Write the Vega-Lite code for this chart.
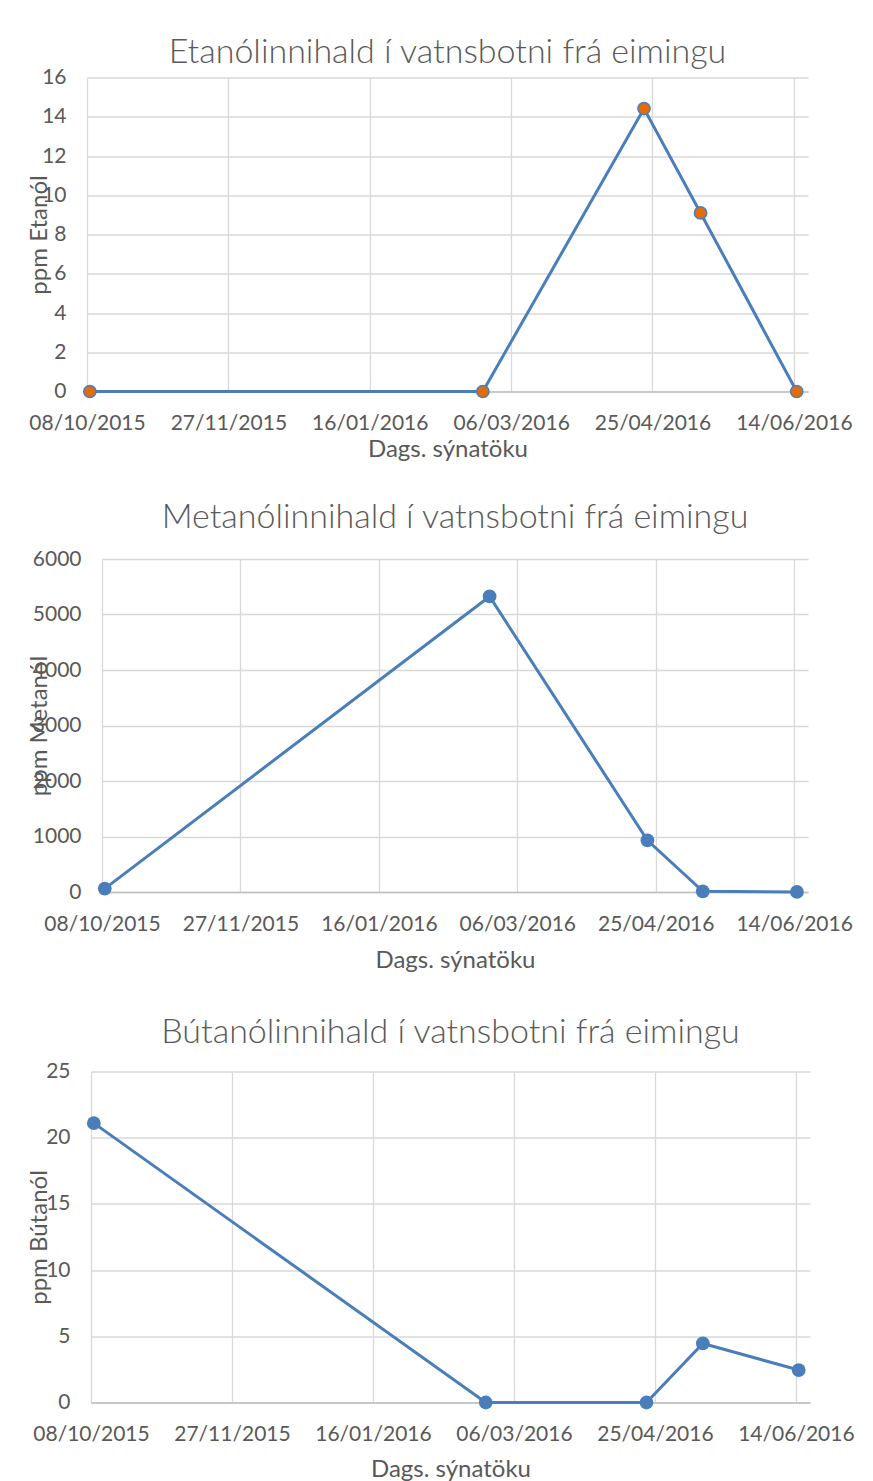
{
  "$schema": "https://vega.github.io/schema/vega-lite/v6.json",
  "padding": {"left": 0, "top": 35.5, "right": 0, "bottom": 0},
  "spacing": 39.5,
  "datasets": {
    "etanol": [
      {"date": "2015-10-09", "ppm": 0},
      {"date": "2016-02-25", "ppm": 0},
      {"date": "2016-04-22", "ppm": 14.42},
      {"date": "2016-05-12", "ppm": 9.1},
      {"date": "2016-06-15", "ppm": 0}
    ],
    "metanol": [
      {"date": "2015-10-09", "ppm": 61},
      {"date": "2016-02-25", "ppm": 5325},
      {"date": "2016-04-22", "ppm": 930},
      {"date": "2016-05-12", "ppm": 12},
      {"date": "2016-06-15", "ppm": 2}
    ],
    "butanol": [
      {"date": "2015-10-09", "ppm": 21.1},
      {"date": "2016-02-25", "ppm": 0},
      {"date": "2016-04-22", "ppm": 0},
      {"date": "2016-05-12", "ppm": 4.46},
      {"date": "2016-06-15", "ppm": 2.45}
    ],
    "empty": []
  },
  "vconcat": [
    {
      "spacing": 0,
      "hconcat": [
        {"width": 27, "height": 1, "data": {"name": "empty"}, "mark": "point"},
        {
          "width": 721,
          "height": 314,
          "title": {"text": "Etanólinnihald í vatnsbotni frá eimingu", "offset": -3.5},
          "data": {"name": "etanol"},
          "mark": {"type": "line", "color": "#4A7EBB", "strokeWidth": 3,
            "point": {"filled": true, "fill": "#E36C0A", "stroke": "#4A7EBB", "strokeWidth": 1.5, "size": 150, "opacity": 1}},
          "encoding": {
            "x": {"field": "date", "type": "temporal",
              "scale": {"type": "utc", "domain": [{"year": 2015, "month": 10, "date": 8, "utc": true}, {"year": 2016, "month": 6, "date": 19, "utc": true}]},
              "axis": {"title": "Dags. sýnatöku", "format": "%d/%m/%Y", "labelPadding": 20.7, "titlePadding": 4,
                "values": [
                  {"year": 2015, "month": 10, "date": 8, "utc": true},
                  {"year": 2015, "month": 11, "date": 27, "utc": true},
                  {"year": 2016, "month": 1, "date": 16, "utc": true},
                  {"year": 2016, "month": 3, "date": 6, "utc": true},
                  {"year": 2016, "month": 4, "date": 25, "utc": true},
                  {"year": 2016, "month": 6, "date": 14, "utc": true}
                ]}},
            "y": {"field": "ppm", "type": "quantitative",
              "scale": {"domain": [0, 16], "nice": false},
              "axis": {"title": "ppm Etanól", "format": "d", "values": [0, 2, 4, 6, 8, 10, 12, 14, 16], "titleX": -35.5}}
          }
        }
      ]
    },
    {
      "spacing": 0,
      "hconcat": [
        {"width": 27, "height": 416.6, "data": {"name": "empty"}, "mark": "point"},
        {
          "width": 706,
          "height": 333,
          "title": {"text": "Metanólinnihald í vatnsbotni frá eimingu", "offset": 12.8},
          "data": {"name": "metanol"},
          "mark": {"type": "line", "color": "#4A7EBB", "strokeWidth": 3,
            "point": {"filled": true, "color": "#4A7EBB", "size": 190, "opacity": 1}},
          "encoding": {
            "x": {"field": "date", "type": "temporal",
              "scale": {"type": "utc", "domain": [{"year": 2015, "month": 10, "date": 8, "utc": true}, {"year": 2016, "month": 6, "date": 19, "utc": true}]},
              "axis": {"title": "Dags. sýnatöku", "format": "%d/%m/%Y", "labelPadding": 21.2, "titlePadding": 14.2,
                "values": [
                  {"year": 2015, "month": 10, "date": 8, "utc": true},
                  {"year": 2015, "month": 11, "date": 27, "utc": true},
                  {"year": 2016, "month": 1, "date": 16, "utc": true},
                  {"year": 2016, "month": 3, "date": 6, "utc": true},
                  {"year": 2016, "month": 4, "date": 25, "utc": true},
                  {"year": 2016, "month": 6, "date": 14, "utc": true}
                ]}},
            "y": {"field": "ppm", "type": "quantitative",
              "scale": {"domain": [0, 6000], "nice": false},
              "axis": {"title": "ppm Metanól", "format": "d", "values": [0, 1000, 2000, 3000, 4000, 5000, 6000], "titleX": -51}}
          }
        }
      ]
    },
    {
      "spacing": 0,
      "hconcat": [
        {"width": 27, "height": 1, "data": {"name": "empty"}, "mark": "point"},
        {
          "width": 719,
          "height": 331,
          "title": {"text": "Bútanólinnihald í vatnsbotni frá eimingu", "offset": 10.9},
          "data": {"name": "butanol"},
          "mark": {"type": "line", "color": "#4A7EBB", "strokeWidth": 3,
            "point": {"filled": true, "color": "#4A7EBB", "size": 190, "opacity": 1}},
          "encoding": {
            "x": {"field": "date", "type": "temporal",
              "scale": {"type": "utc", "domain": [{"year": 2015, "month": 10, "date": 8, "utc": true}, {"year": 2016, "month": 6, "date": 19, "utc": true}]},
              "axis": {"title": "Dags. sýnatöku", "format": "%d/%m/%Y", "labelPadding": 21.4, "titlePadding": 12.5,
                "values": [
                  {"year": 2015, "month": 10, "date": 8, "utc": true},
                  {"year": 2015, "month": 11, "date": 27, "utc": true},
                  {"year": 2016, "month": 1, "date": 16, "utc": true},
                  {"year": 2016, "month": 3, "date": 6, "utc": true},
                  {"year": 2016, "month": 4, "date": 25, "utc": true},
                  {"year": 2016, "month": 6, "date": 14, "utc": true}
                ]}},
            "y": {"field": "ppm", "type": "quantitative",
              "scale": {"domain": [0, 25], "nice": false},
              "axis": {"title": "ppm Bútanól", "format": "d", "values": [0, 5, 10, 15, 20, 25], "titleX": -39.7}}
          }
        }
      ]
    }
  ],
  "config": {
    "font": "Lato",
    "view": {"stroke": null},
    "axis": {
      "labelFont": "Lato", "labelFontSize": 21, "labelColor": "#595959",
      "titleFont": "Lato", "titleFontSize": 24, "titleColor": "#595959", "titleFontWeight": "normal",
      "gridColor": "#D9D9D9", "gridWidth": 1.3, "ticks": false, "domain": false,
      "labelOverlap": false, "labelFlush": false
    },
    "axisX": {"domain": true, "domainColor": "#BFBFBF", "domainWidth": 1.3},
    "axisY": {"labelPadding": 21},
    "title": {"font": "Lato", "fontSize": 34, "fontWeight": 300, "color": "#595959", "anchor": "middle"}
  }
}
